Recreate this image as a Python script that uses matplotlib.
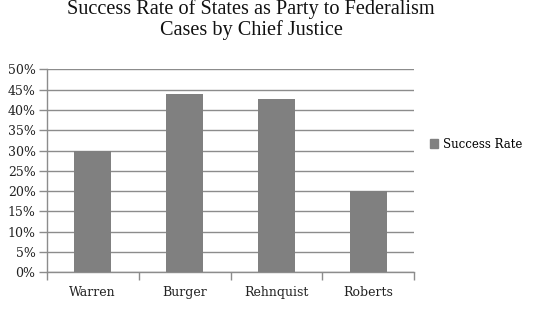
import matplotlib
matplotlib.use("Agg")
import matplotlib.pyplot as plt
from matplotlib.ticker import FuncFormatter, MultipleLocator
import matplotlib.patches as mpatches

categories = ["Warren", "Burger", "Rehnquist", "Roberts"]
success_rate = [30.0, 44.0, 42.7, 20.0]
series_name = "Success Rate"
title = "Success Rate of States as Party to Federalism\nCases by Chief Justice"

W, H = 539, 318
fig = plt.figure(figsize=(W / 100, H / 100), dpi=100)
ax = fig.add_axes([46.7 / W, 1 - 272.3 / H, (414.3 - 46.7) / W, (272.3 - 69.3) / H])

grid_c = "#8c8c8c"
bar_c = "#808080"
tick_font = "DejaVu Serif"

x = list(range(len(categories)))
ax.bar(x, success_rate, width=0.40, color=bar_c, zorder=3)
ax.set_xlim(-0.5, len(categories) - 0.5)
ax.set_ylim(0, 50)
ax.yaxis.set_major_locator(MultipleLocator(5))
ax.yaxis.set_major_formatter(FuncFormatter(lambda v, p: f"{int(round(v))}%"))
ax.grid(axis="y", color=grid_c, linewidth=1, zorder=0)

ax.set_xticks([i + 0.5 for i in range(-1, len(categories))], minor=False)
ax.set_xticklabels([])
ax.set_xticks(x, minor=True)
ax.set_xticklabels(categories, minor=True)
ax.tick_params(axis="x", which="major", length=6, width=1, color=grid_c, direction="out")
ax.tick_params(axis="x", which="minor", length=0, pad=10, labelsize=9)
ax.tick_params(axis="y", length=6, width=1, color=grid_c, labelsize=9, pad=2)
for lab in ax.get_xticklabels(minor=True) + ax.get_yticklabels():
    lab.set_fontfamily(tick_font)
    lab.set_color("#222222")

for s in ["top", "right"]:
    ax.spines[s].set_visible(False)
for s in ["left", "bottom"]:
    ax.spines[s].set_color(grid_c)
    ax.spines[s].set_linewidth(1)

fig.text(251 / W, 1 - 19.5 / H, title, ha="center", va="center",
         fontfamily="Liberation Serif", fontsize=14.6, linespacing=1.1, color="#111111")

handle = mpatches.Patch(color=bar_c, label=series_name)
fig.legend(handles=[handle], loc="center left", bbox_to_anchor=(419 / W, 1 - 144 / H),
           frameon=False, handlelength=0.75, handleheight=0.75, handletextpad=0.4,
           prop={"family": tick_font, "size": 8.5})

fig.savefig("out.png", dpi=100)
